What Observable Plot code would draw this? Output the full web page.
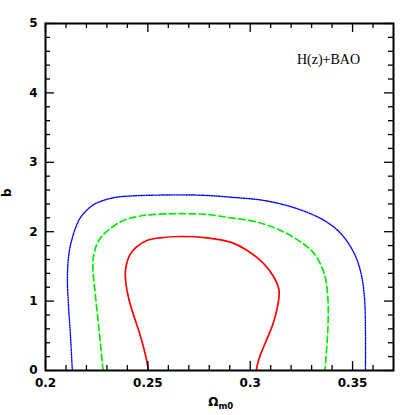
<!DOCTYPE html>
<html>
<head>
<meta charset="utf-8">
<script src="https://cdn.jsdelivr.net/npm/d3@7"></script>
<script src="https://cdn.jsdelivr.net/npm/@observablehq/plot@0.6"></script>
<style>
  html, body { margin: 0; padding: 0; background: #fff; }
</style>
</head>
<body>
<div id="chart"></div>
<script>
// ---- data ----
const xMajor = [0.2, 0.25, 0.3, 0.35];
const xMinor = [0.21, 0.22, 0.23, 0.24, 0.26, 0.27, 0.28, 0.29, 0.31, 0.32, 0.33, 0.34, 0.36];
const yMajor = [0, 1, 2, 3, 4, 5];
const yMinor = [0.2, 0.4, 0.6, 0.8, 1.2, 1.4, 1.6, 1.8, 2.2, 2.4, 2.6, 2.8, 3.2, 3.4, 3.6, 3.8, 4.2, 4.4, 4.6, 4.8];

// outer contour (blue dotted): [Omega_m0, b]
const blueOm = [0.2131, 0.2122, 0.2112, 0.2107, 0.2110, 0.2118, 0.2130, 0.2146, 0.2170, 0.2202, 0.2235, 0.2282, 0.2347, 0.2429, 0.2560, 0.2680, 0.2789, 0.2904, 0.3067, 0.3231, 0.3362, 0.3444, 0.3509, 0.3542, 0.3558, 0.3563, 0.3563];
const blueB  = [0.000, 0.500, 0.950, 1.300, 1.550, 1.750, 1.900, 2.050, 2.200, 2.310, 2.390, 2.450, 2.497, 2.517, 2.528, 2.530, 2.522, 2.497, 2.450, 2.330, 2.161, 1.970, 1.682, 1.393, 1.056, 0.576, 0.000];
// middle contour (green dashed)
const greenOm = [0.2281, 0.2262, 0.2243, 0.2233, 0.2232, 0.2240, 0.2256, 0.2280, 0.2316, 0.2380, 0.2478, 0.2609, 0.2700, 0.2789, 0.2904, 0.3035, 0.3149, 0.3248, 0.3313, 0.3362, 0.3379, 0.3380, 0.3365];
const greenB  = [0.000, 0.576, 1.100, 1.400, 1.580, 1.720, 1.850, 1.950, 2.045, 2.161, 2.233, 2.258, 2.258, 2.248, 2.200, 2.137, 2.017, 1.849, 1.682, 1.393, 1.056, 0.650, 0.000];
// inner contour (red solid)
const redOm = [0.2502, 0.2496, 0.2482, 0.2458, 0.2430, 0.2408, 0.2393, 0.2390, 0.2398, 0.2415, 0.2445, 0.2495, 0.2560, 0.2658, 0.2789, 0.2904, 0.2986, 0.3067, 0.3116, 0.3141, 0.3133, 0.3110, 0.3084, 0.3056, 0.3038, 0.3030];
const redB  = [0.000, 0.120, 0.300, 0.550, 0.800, 1.020, 1.250, 1.420, 1.560, 1.680, 1.780, 1.873, 1.912, 1.931, 1.912, 1.849, 1.729, 1.537, 1.344, 1.153, 0.912, 0.660, 0.470, 0.270, 0.120, 0.000];

const annotation = "H(z)+BAO";
const xLabel = "Ω";
const xLabelSub = "m0";
const yLabel = "b";

// ---- build ----
const toRows = (om, b) => om.map((o, i) => ({om: o, b: b[i]}));
const blue = toRows(blueOm, blueB);
const green = toRows(greenOm, greenB);
const red = toRows(redOm, redB);

const W = 415, H = 415;
const mL = 45, mR = 22, mT = 23, mB = 45;
const innerW = W - mL - mR, innerH = H - mT - mB;
const major = 9, minor = 5;
const labelFont = "DejaVu Sans, sans-serif";

const chart = Plot.plot({
  width: W, height: H,
  marginLeft: mL, marginRight: mR, marginTop: mT, marginBottom: mB,
  style: {background: "#fff", color: "#000", fontFamily: labelFont},
  x: {domain: [0.2, 0.37], axis: null},
  y: {domain: [0, 5], axis: null},
  marks: [
    Plot.line(blue, {x: "om", y: "b", stroke: "#0000ff", strokeWidth: 1.4, strokeDasharray: "1.2,1.3", curve: "catmull-rom"}),
    Plot.line(green, {x: "om", y: "b", stroke: "#00ee00", strokeWidth: 1.7, strokeDasharray: "6.5,3.5", curve: "catmull-rom"}),
    Plot.line(red, {x: "om", y: "b", stroke: "#ff0000", strokeWidth: 1.7, curve: "catmull-rom"}),
    // inward ticks: bottom, top, left, right
    Plot.tickX(xMajor, {x: d => d, insetTop: innerH - major, stroke: "#000", strokeWidth: 1.3}),
    Plot.tickX(xMinor, {x: d => d, insetTop: innerH - minor, stroke: "#000", strokeWidth: 1.3}),
    Plot.tickX(xMajor, {x: d => d, insetBottom: innerH - major, stroke: "#000", strokeWidth: 1.3}),
    Plot.tickX(xMinor, {x: d => d, insetBottom: innerH - minor, stroke: "#000", strokeWidth: 1.3}),
    Plot.tickY(yMajor, {y: d => d, insetRight: innerW - major, stroke: "#000", strokeWidth: 1.3}),
    Plot.tickY(yMinor, {y: d => d, insetRight: innerW - minor, stroke: "#000", strokeWidth: 1.3}),
    Plot.tickY(yMajor, {y: d => d, insetLeft: innerW - major, stroke: "#000", strokeWidth: 1.3}),
    Plot.tickY(yMinor, {y: d => d, insetLeft: innerW - minor, stroke: "#000", strokeWidth: 1.3}),
    Plot.frame({stroke: "#000", strokeWidth: 2}),
    Plot.axisX({ticks: xMajor, tickFormat: d => String(d), tickSize: 0, tickPadding: 8, label: null,
                fontSize: 12, fontWeight: "bold", fontFamily: labelFont}),
    Plot.axisY({ticks: yMajor, tickFormat: d => String(d), tickSize: 0, tickPadding: 8, label: null,
                fontSize: 12, fontWeight: "bold", fontFamily: labelFont}),
    // axis titles
    Plot.text([xLabel], {text: d => d, frameAnchor: "bottom", dx: -1, dy: 35, textAnchor: "end", lineAnchor: "bottom",
                fontSize: 12, fontWeight: "bold", fontFamily: labelFont}),
    Plot.text([xLabelSub], {text: d => d, frameAnchor: "bottom", dx: -1, dy: 38, textAnchor: "start", lineAnchor: "bottom",
                fontSize: 8.5, fontWeight: "bold", fontFamily: labelFont}),
    Plot.text([yLabel], {text: d => d, frameAnchor: "left", dx: -38, rotate: -90,
                fontSize: 12, fontWeight: "bold", fontFamily: labelFont}),
    // annotation
    Plot.text([annotation], {text: d => d, frameAnchor: "top-right", dx: -65, dy: 31, textAnchor: "middle",
                fontSize: 14, fontFamily: "Liberation Serif, serif", letterSpacing: 1.1})
  ]
});
document.getElementById("chart").appendChild(chart);
</script>
</body>
</html>
